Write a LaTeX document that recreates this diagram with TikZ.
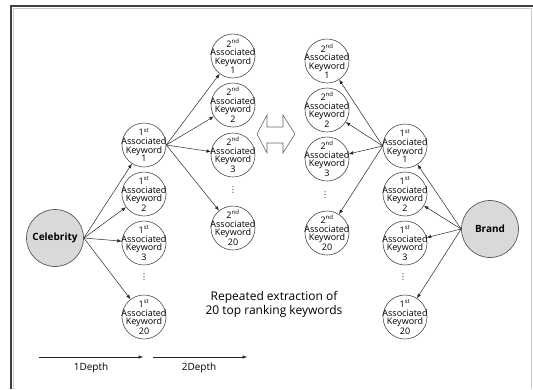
\documentclass[tikz,border=0pt]{standalone}
\usepackage{fontspec}
\setmainfont{Open Sans}
\newfontfamily\symfont{DejaVu Sans}
\usetikzlibrary{arrows.meta}
\tikzset{
  kw/.style={circle, draw=black!70, line width=0.6pt, minimum size=44pt, inner sep=0pt},
  kwtext/.style={align=center, font=\fontsize{9}{8.6}\selectfont, inner sep=0pt, text=black},
  big/.style={circle, draw=black!65, fill=black!15, line width=0.7pt, minimum size=57pt, inner sep=0pt, font=\fontsize{10}{12}\selectfont\bfseries},
  arr/.style={-{Latex[length=4.5pt,width=3.5pt]}, line width=0.5pt, draw=black!85},
  dotsnode/.style={inner sep=0pt, font=\symfont\fontsize{8}{8}\selectfont},
}
\newcommand{\kwnode}[4]{\node[kw, label={[kwtext]center:{#3\\Associated\\Keyword\\#4}}] (#1) at (#2) {};}
\begin{document}
\begin{tikzpicture}[x=1pt,y=-1pt]
\useasboundingbox (0,0) rectangle (533,389);
% frame
\draw[black!75, line width=1.5pt] (11,389) -- (11,6) -- (533,6);
\draw[black!20, line width=1pt] (13.5,389) -- (13.5,8.5) -- (531.5,8.5) -- (531.5,389);

% big nodes
\node[big] (cel) at (55,238) {Celebrity};
\node[big] (brand) at (490,229) {Brand};

% left 1st column
\kwnode{la1}{144,145}{1\textsuperscript{st}}{1}
\kwnode{la2}{144,194}{1\textsuperscript{st}}{2}
\kwnode{la3}{144,243}{1\textsuperscript{st}}{3}
\kwnode{la20}{144,317}{1\textsuperscript{st}}{20}
\node[dotsnode] (lad) at (144,277) {⋮};

% left 2nd column
\kwnode{lb1}{233,56}{2\textsuperscript{nd}}{1}
\kwnode{lb2}{233,105}{2\textsuperscript{nd}}{2}
\kwnode{lb3}{233,155}{2\textsuperscript{nd}}{3}
\kwnode{lb20}{233,228}{2\textsuperscript{nd}}{20}
\node[dotsnode] (lbd) at (233,190) {⋮};

% right 2nd column
\kwnode{rb1}{327,61}{2\textsuperscript{nd}}{1}
\kwnode{rb2}{327,110}{2\textsuperscript{nd}}{2}
\kwnode{rb3}{327,159}{2\textsuperscript{nd}}{3}
\kwnode{rb20}{327,233}{2\textsuperscript{nd}}{20}
\node[dotsnode] (rbd) at (325,195) {⋮};

% right 1st column
\kwnode{ra1}{405,146}{1\textsuperscript{st}}{1}
\kwnode{ra2}{405,194}{1\textsuperscript{st}}{2}
\kwnode{ra3}{405,243}{1\textsuperscript{st}}{3}
\kwnode{ra20}{405,317}{1\textsuperscript{st}}{20}
\node[dotsnode] (rad) at (403,277) {⋮};

% arrows left
\foreach \t in {la1,la2,la3,la20} \draw[arr] (cel.east) -- (\t);
\foreach \t in {lb1,lb2,lb3,lb20} \draw[arr] (la1.east) -- (\t);
% arrows right
\foreach \t in {ra1,ra2,ra3,ra20} \draw[arr] (brand.west) -- (\t);
\foreach \t in {rb1,rb2,rb3,rb20} \draw[arr] (ra1.west) -- (\t);

% double arrow
\draw[black!60, line width=0.6pt, line join=miter]
  (257,134) -- (267,115) -- (267,127) -- (283,127) -- (283,115) -- (295,134)
  -- (283,153) -- (283,143) -- (267,143) -- (267,153) -- cycle;

% caption
\node[align=center, font=\fontsize{12}{14}\selectfont, inner sep=0pt] (cap) at (274,304)
  {Repeated extraction of\\20 top ranking keywords};

% depth arrows
\coordinate (d1s) at (39,357);
\coordinate (d1e) at (143,357);
\coordinate (d2s) at (153,357);
\coordinate (d2e) at (247,357);
\draw[arr] (d1s) -- (d1e);
\draw[arr] (d2s) -- (d2e);
\node[font=\fontsize{10}{12}\selectfont, inner sep=0pt] (l1) at (91,368) {1Depth};
\node[font=\fontsize{10}{12}\selectfont, inner sep=0pt] (l2) at (199,368) {2Depth};
\end{tikzpicture}
\end{document}
